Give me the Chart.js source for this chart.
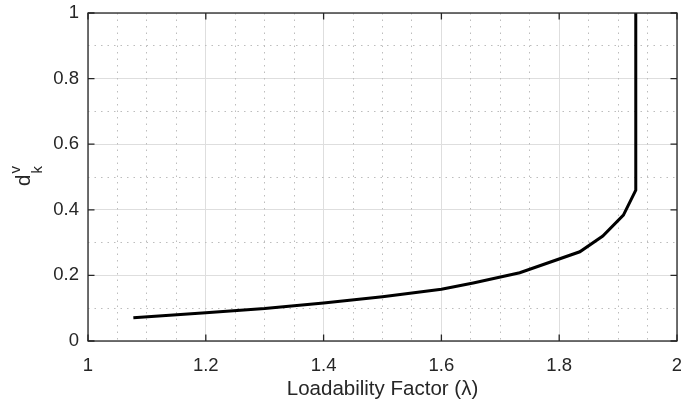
<!DOCTYPE html>
<html><head><meta charset="utf-8">
<script src="https://cdn.jsdelivr.net/npm/chart.js@4"></script>
<style>html,body{margin:0;padding:0;background:#fff}#wrap{width:681px;height:405px}</style>
</head><body><div id="wrap"><canvas id="c" width="681" height="405"></canvas></div>
<script>
// Data
const lambdaValues = [1.077, 1.2, 1.3, 1.4, 1.5, 1.6, 1.654, 1.733, 1.835, 1.874, 1.909, 1.930, 1.930];
const dkValues     = [0.071, 0.086, 0.099, 0.116, 0.135, 0.158, 0.177, 0.208, 0.272, 0.320, 0.384, 0.460, 1.000];
const xTickLabels = ['1', '1.2', '1.4', '1.6', '1.8', '2'];
const yTickLabels = ['0', '0.2', '0.4', '0.6', '0.8', '1'];
const xAxisTitle = 'Loadability Factor (\u03bb)';
const yAxisBase = 'd', yAxisSup = 'v', yAxisSub = 'k';

const TEXT = '#262626';
const FAMILY = '"Liberation Sans", Arial, Helvetica, sans-serif';
Chart.defaults.font.family = FAMILY;
Chart.defaults.color = TEXT;

const isMajor = v => Math.abs(v * 5 - Math.round(v * 5)) < 1e-6;

const frame = {
  id: 'frame',
  afterDraw(chart) {
    const {ctx, chartArea: a, scales} = chart;
    ctx.save();
    ctx.strokeStyle = TEXT;
    ctx.lineWidth = 1.3;
    const tl = 6.5;
    ctx.beginPath();
    scales.x.ticks.forEach(t => {
      const px = scales.x.getPixelForValue(t.value);
      ctx.moveTo(px, a.bottom); ctx.lineTo(px, a.bottom - tl);
      ctx.moveTo(px, a.top); ctx.lineTo(px, a.top + tl);
    });
    scales.y.ticks.forEach(t => {
      const py = scales.y.getPixelForValue(t.value);
      ctx.moveTo(a.left, py); ctx.lineTo(a.left + tl, py);
      ctx.moveTo(a.right, py); ctx.lineTo(a.right - tl, py);
    });
    ctx.stroke();
    ctx.strokeRect(a.left, a.top, a.right - a.left, a.bottom - a.top);
    // y axis title d_k^v, rotated
    ctx.fillStyle = TEXT;
    ctx.translate(30, 186);
    ctx.rotate(-Math.PI / 2);
    ctx.textAlign = 'left';
    ctx.textBaseline = 'alphabetic';
    ctx.font = '20.5px ' + FAMILY;
    ctx.fillText(yAxisBase, 0, 0);
    const w = ctx.measureText(yAxisBase).width;
    ctx.font = '15px ' + FAMILY;
    ctx.fillText(yAxisSup, w + 1, -10);
    ctx.fillText(yAxisSub, w + 1, 11.5);
    ctx.restore();
  }
};

const noPadX = s => { s.paddingLeft = 0; s.paddingRight = 0; };
const noPadY = s => { s.paddingTop = 0; s.paddingBottom = 0; };

new Chart(document.getElementById('c'), {
  type: 'line',
  data: {
    datasets: [{
      data: lambdaValues.map((x, i) => ({x: x, y: dkValues[i]})),
      borderColor: '#000000',
      borderWidth: 3,
      pointRadius: 0,
      tension: 0,
      fill: false
    }]
  },
  options: {
    responsive: false,
    animation: false,
    events: [],
    layout: {padding: {top: 13, right: 4, left: 0, bottom: 0}},
    plugins: {legend: {display: false}, tooltip: {enabled: false}},
    scales: {
      x: {
        type: 'linear', position: 'bottom', min: 1, max: 2,
        ticks: {stepSize: 0.2, padding: 14, font: {size: 18.5}, color: TEXT, maxRotation: 0,
                callback: (v, i) => xTickLabels[i]},
        grid: {color: '#dedede', lineWidth: 1, drawTicks: false},
        border: {display: false},
        title: {display: true, text: xAxisTitle, color: TEXT, font: {size: 20.5}, padding: {top: 0, bottom: 3}},
        afterFit: s => { s.height = 64; noPadX(s); }
      },
      y: {
        type: 'linear', position: 'left', min: 0, max: 1,
        ticks: {stepSize: 0.2, padding: 9, font: {size: 18.5}, color: TEXT,
                callback: (v, i) => yTickLabels[i]},
        grid: {color: '#dedede', lineWidth: 1, drawTicks: false},
        border: {display: false},
        afterFit: s => { s.width = 88; noPadY(s); }
      },
      xMinor: {
        type: 'linear', axis: 'x', position: 'bottom', min: 1, max: 2,
        ticks: {stepSize: 0.05, display: false},
        grid: {drawTicks: false, lineWidth: 1,
               color: c => isMajor(c.tick.value) ? 'rgba(0,0,0,0)' : '#bdbdbd'},
        border: {display: false, dash: [1.5, 5]},
        afterFit: s => { s.height = 0; noPadX(s); }
      },
      yMinor: {
        type: 'linear', axis: 'y', position: 'left', min: 0, max: 1,
        ticks: {stepSize: 0.1, display: false},
        grid: {drawTicks: false, lineWidth: 1,
               color: c => isMajor(c.tick.value) ? 'rgba(0,0,0,0)' : '#bdbdbd'},
        border: {display: false, dash: [1.5, 5]},
        afterFit: s => { s.width = 0; noPadY(s); }
      }
    }
  },
  plugins: [frame]
});
</script>
</body></html>
